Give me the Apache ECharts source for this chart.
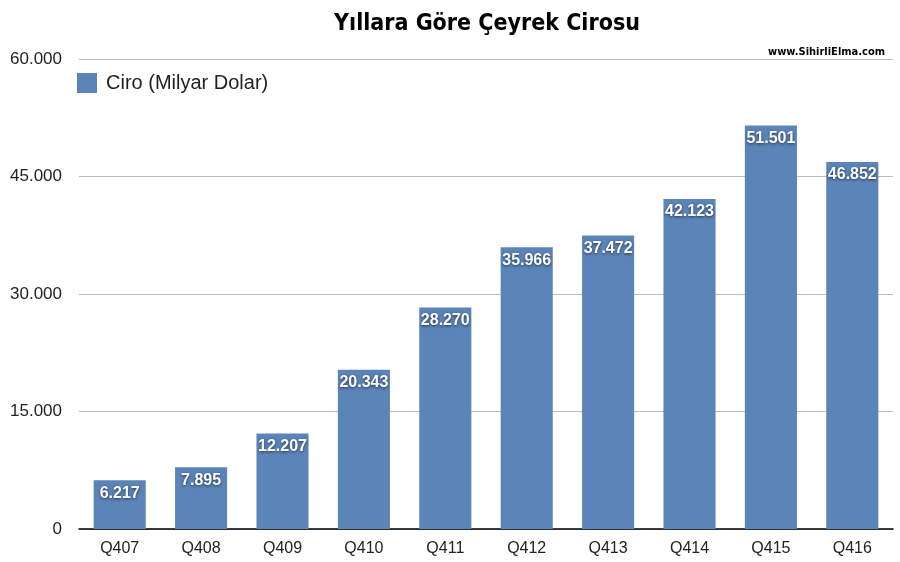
<!DOCTYPE html>
<html><head><meta charset="utf-8">
<script src="https://cdn.jsdelivr.net/npm/echarts@6/dist/echarts.min.js"></script>
<style>html,body{margin:0;padding:0;background:#fff}#c{width:900px;height:562px}</style>
</head><body><div id="c"></div>
<script>
const categories = ['Q407','Q408','Q409','Q410','Q411','Q412','Q413','Q414','Q415','Q416'];
const revenue = [6217, 7895, 12207, 20343, 28270, 35966, 37472, 42123, 51501, 46852];
const seriesName = 'Ciro (Milyar Dolar)';
const titleText = 'Yıllara Göre Çeyrek Cirosu';
const watermark = 'www.SihirliElma.com';

function fmt(v){ return String(v).replace(/\B(?=(\d{3})+(?!\d))/g, '.'); }

const condFamily = '"DejaVu Sans Condensed","DejaVu Sans",sans-serif';
const chart = echarts.init(document.getElementById('c'), null, {renderer:'canvas'});
chart.setOption({
  animation:false,
  backgroundColor:'#fff',
  title:[{
    text:titleText, left:482, textAlign:'center', top:8,
    textStyle:{fontFamily:condFamily,fontStyle:'condensed',fontWeight:'bold',fontSize:23,color:'#000'}
  },{
    text:watermark, right:10, top:42,
    textStyle:{fontFamily:condFamily,fontStyle:'condensed',fontWeight:'bold',fontSize:11,color:'#000'}
  }],
  legend:{
    left:72, top:68, itemWidth:20, itemHeight:20, itemGap:10,
    icon:'rect',
    textStyle:{fontFamily:'"Liberation Sans",Arial,sans-serif',fontSize:20,color:'#222',padding:[0,0,0,4]},
    data:[seriesName]
  },
  grid:{left:79, right:7, top:59, bottom:33, containLabel:false},
  xAxis:{
    type:'category', data:categories,
    axisLine:{lineStyle:{color:'#000',width:1.5}},
    axisTick:{show:false},
    axisLabel:{fontFamily:'"Liberation Sans",Arial,sans-serif',fontSize:16,color:'#222',margin:12}
  },
  yAxis:{
    type:'value', min:0, max:60000, interval:15000,
    axisLine:{show:false}, axisTick:{show:false},
    axisLabel:{fontFamily:'"Liberation Sans",Arial,sans-serif',fontSize:17,color:'#222',margin:17,formatter:fmt},
    splitLine:{lineStyle:{color:'#bdbdbd',width:1}}
  },
  series:[{
    name:seriesName, type:'bar', data:revenue,
    barCategoryGap:'36%',
    itemStyle:{color:'#5b84b8'},
    label:{
      show:true, position:'insideTop', distance:5,
      formatter:p=>fmt(p.value),
      fontFamily:'"Liberation Sans",Arial,sans-serif', fontWeight:'bold', fontSize:16, color:'#fff',
      textShadowColor:'rgba(0,0,0,0.6)', textShadowBlur:3, textShadowOffsetY:1
    }
  }]
});
</script></body></html>
